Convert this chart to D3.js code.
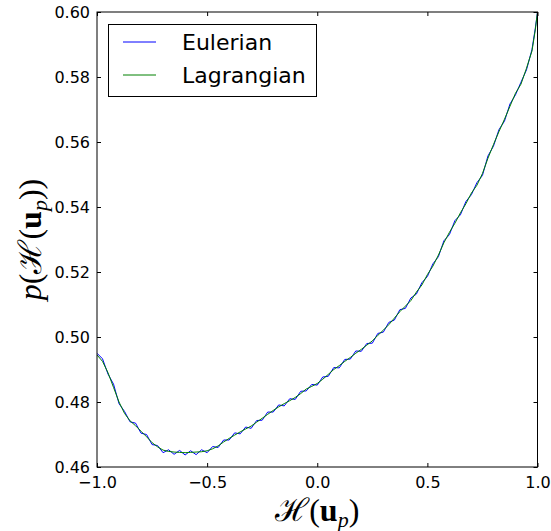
<!DOCTYPE html>
<html>
<head>
<meta charset="utf-8">
<script src="https://cdn.jsdelivr.net/npm/d3@7"></script>
<style>
  html, body { margin: 0; padding: 0; background: #fff; }
  svg { display: block; }
  text { font-family: "DejaVu Sans", sans-serif; }
</style>
</head>
<body>
<svg id="chart" width="551" height="531"></svg>
<script>
// ---- data ----
const xValues = [
  -1.000,-0.975,-0.950,-0.925,-0.900,-0.875,-0.850,-0.825,-0.800,-0.775,
  -0.750,-0.725,-0.700,-0.675,-0.650,-0.625,-0.600,-0.575,-0.550,-0.525,
  -0.500,-0.475,-0.450,-0.425,-0.400,-0.375,-0.350,-0.325,-0.300,-0.275,
  -0.250,-0.225,-0.200,-0.175,-0.150,-0.125,-0.100,-0.075,-0.050,-0.025,
   0.000, 0.025, 0.050, 0.075, 0.100, 0.125, 0.150, 0.175, 0.200, 0.225,
   0.250, 0.275, 0.300, 0.325, 0.350, 0.375, 0.400, 0.425, 0.450, 0.475,
   0.500, 0.525, 0.550, 0.575, 0.600, 0.625, 0.650, 0.675, 0.700, 0.725,
   0.750, 0.775, 0.800, 0.825, 0.850, 0.875, 0.900, 0.925, 0.950, 0.975,
   0.990, 1.000
];
const eulerian = [
  0.4950,0.4933,0.4886,0.4855,0.4795,0.4771,0.4739,0.4735,0.4704,0.4700,
  0.4669,0.4666,0.4644,0.4653,0.4639,0.4651,0.4637,0.4650,0.4638,0.4653,
  0.4644,0.4663,0.4660,0.4683,0.4683,0.4705,0.4702,0.4723,0.4719,0.4743,
  0.4744,0.4769,0.4769,0.4791,0.4788,0.4810,0.4808,0.4833,0.4834,0.4854,
  0.4852,0.4877,0.4879,0.4906,0.4905,0.4931,0.4932,0.4957,0.4956,0.4980,
  0.4981,0.5011,0.5015,0.5045,0.5052,0.5084,0.5088,0.5120,0.5132,0.5167,
  0.5186,0.5225,0.5247,0.5296,0.5315,0.5358,0.5376,0.5417,0.5438,0.5475,
  0.5497,0.5557,0.5587,0.5638,0.5664,0.5717,0.5745,0.5784,0.5822,0.5885,
  0.5950,0.6000
];
const lagrangian = [
  0.4945,0.4925,0.4890,0.4845,0.4800,0.4765,0.4742,0.4727,0.4710,0.4693,
  0.4675,0.4662,0.4652,0.4648,0.4646,0.4645,0.4644,0.4645,0.4646,0.4647,
  0.4650,0.4656,0.4665,0.4677,0.4688,0.4698,0.4708,0.4717,0.4726,0.4738,
  0.4750,0.4762,0.4774,0.4785,0.4795,0.4804,0.4814,0.4826,0.4840,0.4848,
  0.4857,0.4870,0.4885,0.4900,0.4912,0.4925,0.4937,0.4950,0.4962,0.4975,
  0.4988,0.5005,0.5021,0.5038,0.5058,0.5078,0.5095,0.5112,0.5138,0.5160,
  0.5192,0.5218,0.5252,0.5290,0.5322,0.5350,0.5382,0.5410,0.5443,0.5467,
  0.5503,0.5550,0.5592,0.5632,0.5670,0.5710,0.5750,0.5778,0.5827,0.5880,
  0.5945,0.6000
];
const xTicks = [-1.0, -0.5, 0.0, 0.5, 1.0];
const yTicks = [0.46, 0.48, 0.50, 0.52, 0.54, 0.56, 0.58, 0.60];
const seriesNames = ["Eulerian", "Lagrangian"];
const seriesColors = ["#0000ff", "#008000"];

// ---- layout ----
const svg = d3.select("#chart");
const L = 97, R = 537.5, T = 12, B = 467;
const x = d3.scaleLinear().domain([-1, 1]).range([L, R]);
const y = d3.scaleLinear().domain([0.46, 0.60]).range([B, T]);

const fmtX = d => d3.format(".1f")(d).replace("-", "\u2212");
const fmtY = d3.format(".2f");

svg.append("clipPath").attr("id", "clip")
  .append("rect").attr("x", L).attr("y", T).attr("width", R - L).attr("height", B - T);

const seriesData = [eulerian, lagrangian];
const line = d3.line().x((d, i) => x(xValues[i])).y(d => y(d));
seriesData.forEach((s, k) => {
  svg.append("path")
    .attr("clip-path", "url(#clip)")
    .attr("d", line(s))
    .attr("fill", "none")
    .attr("stroke", seriesColors[k])
    .attr("stroke-width", 1)
    .attr("stroke-linejoin", "round");
});

const tickLen = 4;
const axB = svg.append("g").attr("transform", `translate(0,${B})`)
  .call(d3.axisBottom(x).tickValues(xTicks).tickSizeInner(-tickLen).tickSizeOuter(0).tickPadding(10).tickFormat(fmtX));
const axT = svg.append("g").attr("transform", `translate(0,${T})`)
  .call(d3.axisTop(x).tickValues(xTicks).tickSizeInner(-tickLen).tickSizeOuter(0).tickFormat(""));
const axL = svg.append("g").attr("transform", `translate(${L},0)`)
  .call(d3.axisLeft(y).tickValues(yTicks).tickSizeInner(-tickLen).tickSizeOuter(0).tickPadding(7).tickFormat(fmtY));
const axR = svg.append("g").attr("transform", `translate(${R},0)`)
  .call(d3.axisRight(y).tickValues(yTicks).tickSizeInner(-tickLen).tickSizeOuter(0).tickFormat(""));
[axB, axT, axL, axR].forEach(g => {
  g.select(".domain").remove();
  g.selectAll("line").attr("stroke", "#000").attr("stroke-width", 1);
  g.selectAll("text").attr("fill", "#000").style("font-size", "16px").style("font-family", "DejaVu Sans, sans-serif");
});
axB.selectAll("text").attr("dy", "0.71em");

svg.append("rect").attr("x", L).attr("y", T).attr("width", R - L).attr("height", B - T)
  .attr("fill", "none").attr("stroke", "#000").attr("stroke-width", 1);

// legend
const lg = svg.append("g");
lg.append("rect").attr("x", 108.5).attr("y", 24.5).attr("width", 208).attr("height", 72)
  .attr("fill", "#fff").attr("stroke", "#000").attr("stroke-width", 1);
seriesNames.forEach((n, k) => {
  const yy = 42 + k * 33;
  lg.append("line").attr("x1", 123).attr("x2", 156).attr("y1", yy).attr("y2", yy)
    .attr("stroke", seriesColors[k]).attr("stroke-width", 1);
  lg.append("text").attr("x", 182).attr("y", yy + 8).text(n)
    .style("font-size", "22px").attr("fill", "#000");
});

// axis labels
const labelFont = "Liberation Serif, DejaVu Serif, serif";
const xl = svg.append("text").attr("x", (L + R) / 2).attr("y", 521)
  .attr("text-anchor", "middle").style("font-family", labelFont).style("font-size", "32px");
xl.append("tspan").text("\u210B(");
xl.append("tspan").text("u").style("font-weight", "bold");
xl.append("tspan").text("p").style("font-style", "italic").style("font-size", "22px").attr("dy", "6");
xl.append("tspan").text(")").attr("dy", "-6");

const yl = svg.append("text").attr("transform", `translate(41,${(T + B) / 2}) rotate(-90)`)
  .attr("text-anchor", "middle").style("font-family", labelFont).style("font-size", "32px");
yl.append("tspan").text("p").style("font-style", "italic");
yl.append("tspan").text("(\u210B(");
yl.append("tspan").text("u").style("font-weight", "bold");
yl.append("tspan").text("p").style("font-style", "italic").style("font-size", "22px").attr("dy", "6");
yl.append("tspan").text("))").attr("dy", "-6");
</script>
</body>
</html>
